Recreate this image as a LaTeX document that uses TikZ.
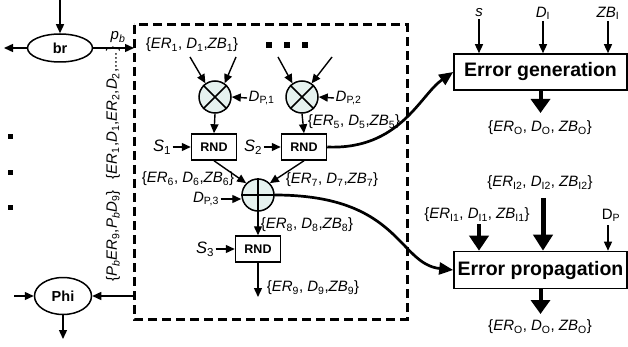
\documentclass[tikz,border=0pt]{standalone}
\usepackage{fontspec}
\setmainfont{Liberation Sans}
\usetikzlibrary{arrows.meta,shapes.geometric}
\definecolor{opfill}{HTML}{E6F2EF}
\newcommand\vs[2]{\textit{#1}\textsubscript{#2}}
\begin{document}
\begin{tikzpicture}[x=1pt,y=-1pt,
  lbl/.style={font=\fontsize{15}{17}\selectfont, inner sep=1.5pt},
  arr/.style={line width=1.4pt, -{Triangle[width=8pt,length=9pt]}},
  thickarr/.style={line width=4pt, -{Triangle[width=19pt,length=14pt]}},
  curvearr/.style={line width=2.7pt, -{Triangle[width=12pt,length=14pt]}},
  rndbox/.style={draw, line width=1.5pt, minimum width=45pt, minimum height=26pt, inner sep=0pt, font=\bfseries\fontsize{12.5}{14}\selectfont},
  op/.style={circle, draw, line width=1.5pt, fill=opfill, minimum size=32pt, inner sep=0pt},
  blk/.style={draw, line width=1.6pt, minimum width=173pt, minimum height=36pt, inner sep=0pt, font=\bfseries\fontsize{19.5}{22}\selectfont},
  ell/.style={ellipse, draw, line width=1.5pt, fill=white, inner sep=0pt, font=\bfseries\fontsize{14.5}{16}\selectfont},
  dot/.style={fill=black, minimum size=6pt, inner sep=0pt},
]
\useasboundingbox (0,0) rectangle (628,347);

% dashed outline of the inner structure
\draw[line width=3pt, dash pattern=on 9pt off 5pt] (134,25) rectangle (407,319);

% branch and phi nodes on the left
\node[ell, minimum width=65pt, minimum height=28pt] (br) at (60,48) {br};
\node[ell, minimum width=57pt, minimum height=37pt] (phi) at (63,296) {Phi};
\coordinate (brin) at (60,0);
\coordinate (brout) at (4,48);
\coordinate (boxin) at (134,48);
\coordinate (phiin) at (14,296);
\coordinate (boxout) at (134,296);
\coordinate (phiout) at (63,339);
\draw[arr] (brin) -- (br.north);
\draw[arr] (br.west) -- (brout);
\draw[arr] (br.east) -- (boxin);
\node[lbl] (pb) at (118,37) {\textit{p}\textsubscript{\textit{b}}};
\draw[arr] (phiin) -- (phi.west);
\draw[arr] (boxout) -- (phi.east);
\draw[arr] (phi.south) -- (phiout);

\node[dot, minimum size=5pt] (d1) at (10,137) {};
\node[dot, minimum size=5pt] (d2) at (10,173) {};
\node[dot, minimum size=5pt] (d3) at (10,208) {};

\node[lbl, rotate=90] (inlist) at (113,113) {\{\vs{ER}{1},\vs{D}{1},\vs{ER}{2},\vs{D}{2},....\}};
\node[lbl, rotate=90] (outlist) at (113,236) {\{\textit{P}\textsubscript{\textit{b}}\vs{ER}{9},\textit{P}\textsubscript{\textit{b}}\vs{D}{9}\}};

% inside the dashed outline
\node[lbl] (in1) at (192,45) {\{\vs{ER}{1}, \vs{D}{1},\vs{ZB}{1}\}};
\node[dot] (e1) at (269,45) {};
\node[dot] (e2) at (287,45) {};
\node[dot] (e3) at (305,45) {};

\node[op] (m1) at (215,97) {};
\node[op] (m2) at (302,97) {};
\draw[line width=1.5pt] (m1.north west) -- (m1.south east) (m1.north east) -- (m1.south west);
\draw[line width=1.5pt] (m2.north west) -- (m2.south east) (m2.north east) -- (m2.south west);
\coordinate (a1) at (190,57);
\coordinate (a2) at (236,57);
\coordinate (a3) at (278,57);
\coordinate (a4) at (332,57);
\draw[arr] (a1) -- (m1.125);
\draw[arr] (a2) -- (m1.55);
\draw[arr] (a3) -- (m2.125);
\draw[arr] (a4) -- (m2.55);
\node[lbl, anchor=west] (dp1) at (247,98) {\textit{D}\textsubscript{P,1}};
\node[lbl, anchor=west] (dp2) at (334,98) {\textit{D}\textsubscript{P,2}};
\draw[arr] (dp1.west) -- (m1.east);
\draw[arr] (dp2.west) -- (m2.east);

\node[rndbox] (r1) at (214,147) {RND};
\node[rndbox] (r2) at (304,147) {RND};
\draw[arr] (m1.south) -- (r1.north);
\draw[arr] (m2.south) -- (r2.north);
\node[lbl, font=\fontsize{16.5}{18}\selectfont] (s1) at (162,147) {\vs{S}{1}};
\node[lbl, font=\fontsize{16.5}{18}\selectfont] (s2) at (253,147) {\vs{S}{2}};
\draw[arr] (s1.east) -- (r1.west);
\draw[arr] (s2.east) -- (r2.west);
\node[lbl] (l5) at (354,122) {\{\vs{ER}{5}, \vs{D}{5},\vs{ZB}{5}\}};

\node[op] (add) at (258,195) {};
\draw[line width=1.5pt] (add.north) -- (add.south) (add.west) -- (add.east);
\draw[arr] (r1.south) -- (add.135);
\draw[arr] (r2.south) -- (add.45);
\node[lbl] (l6) at (188,179) {\{\vs{ER}{6}, \vs{D}{6},\vs{ZB}{6}\}};
\node[lbl] (l7) at (332,180) {\{\vs{ER}{7}, \vs{D}{7},\vs{ZB}{7}\}};
\node[lbl] (dp3) at (206,199) {\textit{D}\textsubscript{P,3}};
\draw[arr] (dp3.east) -- (dp3.east -| add.west);

\node[rndbox] (r3) at (258,249) {RND};
\draw[arr] (add.south) -- (r3.north);
\node[lbl] (l8) at (307,225) {\{\vs{ER}{8}, \vs{D}{8},\vs{ZB}{8}\}};
\node[lbl, font=\fontsize{16.5}{18}\selectfont] (s3) at (205,249) {\vs{S}{3}};
\draw[arr] (s3.east) -- (r3.west);
\coordinate (r3out) at (258,297);
\draw[arr] (r3.south) -- (r3out);
\node[lbl] (l9) at (313,288) {\{\vs{ER}{9}, \vs{D}{9},\vs{ZB}{9}\}};

% the two blocks on the right
\node[blk] (eg) at (540.5,72) {Error generation};
\node[blk, minimum height=37pt] (ep) at (540.5,270) {Error propagation};

\draw[curvearr] (r2.east) .. controls (400,150) and (420,95) .. (eg.west);
\draw[curvearr] (add.east) .. controls (400,195) and (398,264) .. (ep.west);

\node[lbl] (gs) at (479,13) {\textit{s}};
\node[lbl] (gd) at (543,13) {\vs{D}{I}};
\node[lbl] (gz) at (608,13) {\vs{ZB}{I}};
\draw[arr] (gs.south) -- (gs.south |- eg.north);
\draw[arr] (gd.south) -- (gd.south |- eg.north);
\draw[arr] (gz.south) -- (gz.south |- eg.north);
\coordinate (egout) at (540.5,113);
\draw[thickarr] (eg.south) -- (egout);
\node[lbl] (go) at (540,128) {\{\vs{ER}{O}, \vs{D}{O}, \vs{ZB}{O}\}};

\node[lbl] (pi2) at (540,183) {\{\vs{ER}{I2}, \vs{D}{I2}, \vs{ZB}{I2}\}};
\node[lbl] (pi1) at (477,215) {\{\vs{ER}{I1}, \vs{D}{I1}, \vs{ZB}{I1}\}};
\node[lbl] (pdp) at (611,215) {D\textsubscript{P}};
\coordinate (i1) at (479,224);
\coordinate (i2) at (543,198);
\coordinate (i3) at (608,225);
\draw[line width=4pt, -{Triangle[width=19pt,length=15pt]}] (i1) -- (i1 |- ep.north);
\draw[line width=5pt, -{Triangle[width=19pt,length=16pt]}] (i2) -- (i2 |- ep.north);
\draw[arr] (i3) -- (i3 |- ep.north);
\coordinate (epout) at (540.5,314);
\draw[thickarr] (ep.south) -- (epout);
\node[lbl] (po) at (540,327) {\{\vs{ER}{O}, \vs{D}{O}, \vs{ZB}{O}\}};
\end{tikzpicture}
\end{document}
